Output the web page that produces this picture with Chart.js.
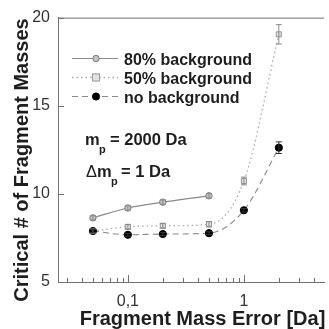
<!DOCTYPE html>
<html><head><meta charset="utf-8">
<style>html,body{margin:0;padding:0;background:#fff;overflow:hidden}</style>
<script src="https://cdn.jsdelivr.net/npm/chart.js@4"></script>
</head><body>
<div style="width:329px;height:329px;position:relative"><canvas id="c" width="329" height="329"></canvas></div>
<script>
// ---- data ----
const massError = [0.05, 0.1, 0.2, 0.5, 1, 2];
const bg80 = [8.64, 9.2, 9.53, 9.89];
const bg80Err = [0.12, 0.12, 0.12, 0.12];
const bg50 = [7.89, 8.13, 8.19, 8.28, 10.73, 19.05];
const bg50Err = [0.12, 0.12, 0.12, 0.15, 0.22, 0.55];
const bg0 = [7.89, 7.68, 7.72, 7.77, 9.07, 12.62];
const bg0Err = [0.08, 0.08, 0.08, 0.08, 0.1, 0.33];
const seriesNames = ['80% background', '50% background', 'no background'];
const xTicks = [0.03, 0.04, 0.05, 0.06, 0.07, 0.08, 0.09, 0.1, 0.2, 0.3, 0.4, 0.5, 0.6, 0.7, 0.8, 0.9, 1, 2, 3, 4];
const xMajor = [0.1, 1];
const xMajorLabels = ['0,1', '1'];
const yTicks = [5, 10, 15, 20];
const xTitle = 'Fragment Mass Error [Da]';
const yTitle = 'Critical # of Fragment Masses';

const FONT = "'Liberation Sans', Arial, sans-serif";

function pts(ys) { return ys.map((y, i) => ({ x: massError[i], y })); }

const styles = [
  { color: '#8a8a8a', dash: [], pointStyle: 'circle', r: 3.2, fill: '#c4c4c4', border: '#7a7a7a', width: 1.2 },
  { color: '#a8a8a8', dash: [1.5, 3], pointStyle: 'rect', r: 3.6, fill: '#e2e2e2', border: '#949494', width: 1.3 },
  { color: '#8a8a8a', dash: [6, 4], pointStyle: 'circle', r: 3.6, fill: '#000', border: '#000', width: 1.1 }
];
const seriesData = [bg80, bg50, bg0];
const seriesErr = [bg80Err, bg50Err, bg0Err];

const datasets = seriesData.map((d, i) => ({
  label: seriesNames[i],
  data: pts(d),
  borderColor: styles[i].color,
  borderWidth: styles[i].width,
  borderDash: styles[i].dash,
  pointStyle: styles[i].pointStyle,
  pointRadius: styles[i].r,
  pointBackgroundColor: styles[i].fill,
  pointBorderColor: styles[i].border,
  pointBorderWidth: 1,
  cubicInterpolationMode: 'monotone',
  tension: 0.4,
  fill: false,
  order: 2 - i
}));

const decor = {
  id: 'decor',
  afterDatasetsDraw(chart) {
    const { ctx, chartArea: a, scales: { x, y } } = chart;
    ctx.save();
    // error bars
    seriesData.forEach((d, s) => {
      ctx.strokeStyle = s === 2 ? '#333' : '#8a8a8a';
      ctx.lineWidth = 1;
      ctx.setLineDash([]);
      d.forEach((v, i) => {
        const px = x.getPixelForValue(massError[i]);
        const e = seriesErr[s][i];
        const t = y.getPixelForValue(v + e), b = y.getPixelForValue(v - e);
        ctx.beginPath();
        ctx.moveTo(px, t); ctx.lineTo(px, b);
        ctx.moveTo(px - 3, t); ctx.lineTo(px + 3, t);
        ctx.moveTo(px - 3, b); ctx.lineTo(px + 3, b);
        ctx.stroke();
      });
    });
    // top border
    ctx.strokeStyle = '#707070';
    ctx.lineWidth = 1;
    ctx.beginPath();
    ctx.moveTo(a.left, a.top + 0.5); ctx.lineTo(a.right, a.top + 0.5);
    ctx.stroke();
    // inward ticks
    ctx.beginPath();
    xTicks.forEach(v => {
      const px = Math.round(x.getPixelForValue(v)) + 0.5;
      const len = xMajor.includes(v) ? 7 : 4;
      ctx.moveTo(px, a.bottom); ctx.lineTo(px, a.bottom - len);
    });
    yTicks.forEach(v => {
      const py = Math.round(y.getPixelForValue(v)) + 0.5;
      ctx.moveTo(a.left, py); ctx.lineTo(a.left + 6, py);
    });
    ctx.stroke();
    // legend
    const rows = [58.5, 77.5, 96.5];
    rows.forEach((ry, i) => {
      const st = styles[i];
      ctx.strokeStyle = st.color; ctx.lineWidth = st.width; ctx.setLineDash(st.dash);
      ctx.beginPath(); ctx.moveTo(72, ry); ctx.lineTo(118, ry); ctx.stroke();
      ctx.setLineDash([]);
      ctx.fillStyle = st.fill; ctx.strokeStyle = st.border; ctx.lineWidth = 1;
      ctx.beginPath();
      if (st.pointStyle === 'rect') ctx.rect(96 - st.r, ry - st.r, st.r * 2, st.r * 2);
      else ctx.arc(96, ry, st.r, 0, Math.PI * 2);
      ctx.fill(); ctx.stroke();
      ctx.fillStyle = '#1e1e1e';
      ctx.font = 'bold 16px ' + FONT;
      ctx.textAlign = 'left'; ctx.textBaseline = 'alphabetic';
      ctx.fillText(seriesNames[i], 124, ry + 6.5);
    });
    // annotations
    ctx.fillStyle = '#1e1e1e';
    ctx.font = 'bold 16.5px ' + FONT;
    ctx.fillText('m', 85, 145);
    ctx.fillText('= 2000 Da', 110, 145);
    ctx.fillText('m', 97, 177);
    ctx.fillText('= 1 Da', 121, 177);
    ctx.font = '16.5px ' + FONT;
    ctx.fillText('\u0394', 86, 177);
    ctx.font = 'bold 11px ' + FONT;
    ctx.fillText('p', 99, 153);
    ctx.fillText('p', 111, 185);
    // axis titles
    ctx.font = 'bold 20px ' + FONT;
    ctx.textAlign = 'center';
    ctx.fillText(xTitle, 202.5, 325);
    ctx.translate(27.5, 160);
    ctx.rotate(-Math.PI / 2);
    ctx.fillText(yTitle, 0, 0);
    ctx.restore();
  }
};

new Chart(document.getElementById('c'), {
  type: 'line',
  data: { datasets },
  options: {
    responsive: false,
    devicePixelRatio: 1,
    animation: false,
    layout: { padding: { top: 17, right: 0, left: 0, bottom: 0 } },
    plugins: { legend: { display: false }, tooltip: { enabled: false } },
    scales: {
      x: {
        type: 'logarithmic', min: 0.025, max: 4.9,
        afterBuildTicks: s => { s.ticks = xTicks.map(v => ({ value: v })); },
        afterFit: s => { s.height = 47; },
        grid: { display: false, drawTicks: false },
        border: { display: true, color: '#707070', width: 1 },
        ticks: {
          autoSkip: false, maxRotation: 0, padding: 10, color: '#333',
          font: { family: FONT, size: 16 },
          callback: v => { const k = xMajor.findIndex(m => Math.abs(m - v) < 1e-9); return k >= 0 ? xMajorLabels[k] : ''; }
        }
      },
      y: {
        type: 'linear', min: 5, max: 20,
        afterBuildTicks: s => { s.ticks = yTicks.map(v => ({ value: v })); },
        afterFit: s => { s.width = 58; },
        grid: { display: false, drawTicks: false },
        border: { display: true, color: '#707070', width: 1 },
        ticks: { padding: 8, color: '#333', font: { family: FONT, size: 16 } }
      }
    }
  },
  plugins: [decor]
});
</script>
</body></html>
